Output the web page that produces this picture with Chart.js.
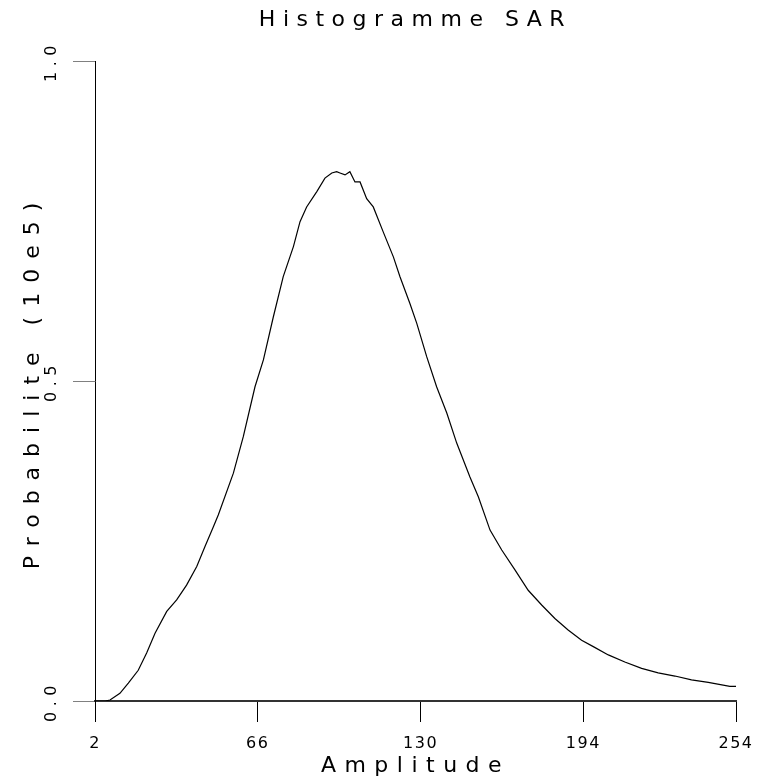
<!DOCTYPE html>
<html>
<head>
<meta charset="utf-8">
<script src="https://cdn.jsdelivr.net/npm/chart.js@4/dist/chart.umd.min.js"></script>
<style>
html,body{margin:0;padding:0;background:#fff;}
canvas{display:block;}
</style>
</head>
<body>
<canvas id="c" width="769" height="781"></canvas>
<script>
// ---- data ----
const titleText = "Histogramme SAR";
const xAxisLabel = "Amplitude";
const yAxisLabel = "Probabilite (10e5)";
const xTickValues = [2, 66, 130, 194, 254];
const yTickValues = [0, 0.5, 1.0];

const amplitude = [2, 6, 7.9, 11.8, 15.1, 19.0, 22.3, 25.6, 30.2, 34.1, 38.0, 42.0, 45.2, 48.5, 50.5,
  56.4, 60.3, 64.9, 68.2, 72.1, 76.0, 80.0, 82.6, 85.2, 89.2, 92.4, 95.1, 97.0, 98.3, 100.3, 102.2,
  104.2, 106.2, 108.8, 111.4, 115.3, 119.3, 121.9, 125.8, 128.5, 132.4, 136.3, 140.3, 144.2, 149.4,
  152.7, 157.3, 161.9, 167.1, 172.3, 177.6, 182.8, 188.0, 193.3, 197.9, 203.8, 210.3, 216.9, 223.4,
  230.0, 236.5, 243.1, 251.6, 254];
const probability = [0, 0, 0.0016, 0.012, 0.028, 0.048, 0.075, 0.106, 0.140, 0.158, 0.181, 0.210, 0.241, 0.272, 0.291,
  0.356, 0.413, 0.491, 0.533, 0.600, 0.663, 0.710, 0.749, 0.772, 0.796, 0.817, 0.825, 0.827, 0.825, 0.822, 0.827,
  0.811, 0.811, 0.785, 0.772, 0.733, 0.694, 0.663, 0.621, 0.590, 0.538, 0.491, 0.450, 0.403, 0.350,
  0.319, 0.267, 0.236, 0.205, 0.173, 0.150, 0.129, 0.111, 0.095, 0.085, 0.072, 0.061, 0.051, 0.044,
  0.039, 0.033, 0.029, 0.023, 0.0227];

// ---- letter spacing helper ----
function wrapSpacing(obj, name, sp) {
  if (!obj || obj['__wrapped_' + name]) return;
  const orig = obj[name];
  obj[name] = function (...args) {
    const ctx = this.ctx;
    const prev = ctx.letterSpacing;
    ctx.letterSpacing = sp;
    try { return orig.apply(this, args); } finally { ctx.letterSpacing = prev; }
  };
  obj['__wrapped_' + name] = true;
}
const spacingPlugin = {
  id: 'spacing',
  beforeDraw(chart) { chart.ctx.letterSpacing = '1.5px'; },
  afterUpdate(chart) {
    wrapSpacing(chart.titleBlock, 'draw', '7.5px');
    wrapSpacing(chart.scales.x, 'drawTitle', '8.5px');
    wrapSpacing(chart.scales.y, 'drawTitle', '10px');
    wrapSpacing(chart.scales.y, 'drawLabels', '5.5px');
  }
};

const FONT = "'DejaVu Sans', sans-serif";

const chart = new Chart(document.getElementById('c'), {
  type: 'line',
  data: {
    datasets: [{
      data: amplitude.map((a, i) => ({ x: a, y: probability[i] })),
      borderColor: '#000',
      borderWidth: 1.2,
      pointRadius: 0,
      fill: false,
      tension: 0
    }]
  },
  options: {
    responsive: false,
    animation: false,
    events: [],
    layout: { padding: { left: 0, right: 33, top: 0, bottom: 0 } },
    plugins: {
      legend: { display: false },
      tooltip: { enabled: false },
      title: {
        display: true,
        text: titleText,
        fullSize: false,
        color: '#000',
        font: { family: FONT, size: 22, weight: 'normal', lineHeight: 1.2 },
        padding: { top: 7, bottom: 27.6 }
      }
    },
    scales: {
      x: {
        type: 'linear',
        min: 2,
        max: 254,
        afterBuildTicks(scale) { scale.ticks = xTickValues.map(v => ({ value: v })); },
        afterFit(scale) { scale.height = 80; scale.paddingLeft = 0; scale.paddingRight = 0; },
        grid: { drawOnChartArea: false, drawTicks: true, tickLength: 21, color: '#000', lineWidth: 1 },
        border: { display: true, color: '#333', width: 2 },
        ticks: {
          autoSkip: false, maxRotation: 0, minRotation: 0, padding: 12, color: '#000',
          font: { family: FONT, size: 16 },
          callback: v => String(v)
        },
        title: {
          display: true, text: xAxisLabel, color: '#000',
          font: { family: FONT, size: 22, lineHeight: 1.2 },
          padding: { top: 0, bottom: 2 }
        }
      },
      y: {
        type: 'linear',
        min: 0,
        max: 1,
        afterBuildTicks(scale) { scale.ticks = yTickValues.map(v => ({ value: v })); },
        afterFit(scale) { scale.width = 95; scale.paddingTop = 0; scale.paddingBottom = 0; },
        grid: { drawOnChartArea: false, drawTicks: true, tickLength: 22, color: '#808080', lineWidth: 1 },
        border: { display: true, color: '#000', width: 1 },
        ticks: {
          autoSkip: false, minRotation: 90, maxRotation: 90, crossAlign: 'center', padding: 8, color: '#000',
          font: { family: FONT, size: 16 },
          callback: v => Number(v).toFixed(1)
        },
        title: {
          display: true, text: yAxisLabel, color: '#000',
          font: { family: FONT, size: 22, lineHeight: 1.2 },
          padding: { top: 20, bottom: 0 }
        }
      }
    }
  },
  plugins: [spacingPlugin]
});
chart.draw();
</script>
</body>
</html>
